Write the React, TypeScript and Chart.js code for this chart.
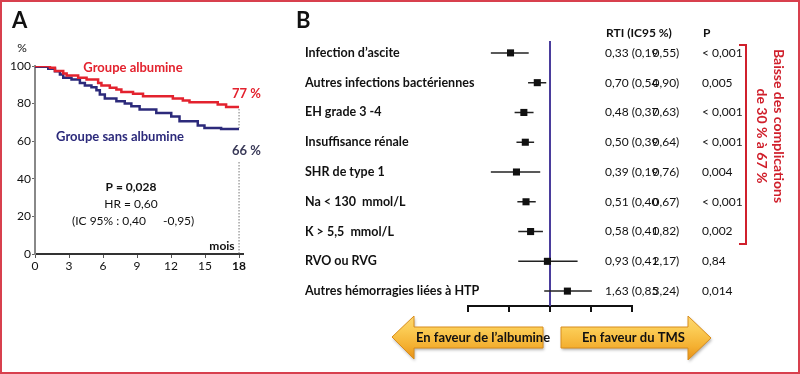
import React, { useEffect, useRef } from 'react';
import { Chart, registerables } from 'chart.js';

Chart.register(...registerables);

const FONT = 'Lato, "Open Sans", "DejaVu Sans", sans-serif';
const RED = '#e3222e';
const NAVY = '#2c2a7b';
const FRAME = '#d8404e';

// ---------- Panel A : Kaplan-Meier ----------
const monthTicks = [0, 3, 6, 9, 12, 15, 18];
const pctTicks = [0, 20, 40, 60, 80, 100];
const albuminTimes = [0, 1.32, 1.76, 2.49, 2.79, 3.81, 4.55, 5.57, 5.86, 6.6, 7.18, 7.62, 8.65, 9.53, 12.16, 13.04, 13.63, 16.12, 16.86, 18];
const albuminSurv = [100, 99.1, 97.3, 96, 94.9, 93.7, 92.8, 91, 89.6, 88.4, 87.5, 86.2, 85.2, 83.9, 82.7, 81.6, 80.7, 79.5, 78.2, 78.2];
const noAlbuminTimes = [0, 1.17, 1.76, 2.2, 2.49, 3.22, 3.96, 4.4, 4.98, 5.42, 5.72, 6.16, 7.18, 7.92, 8.5, 9.23, 10.7, 12.02, 12.75, 14.36, 14.95, 16.42, 18];
const noAlbuminSurv = [99.6, 98.5, 97.2, 95.5, 93.7, 92.8, 91, 89.6, 88.7, 87.1, 84.8, 82.7, 81.2, 80, 78.6, 76.8, 75, 73.2, 70.6, 68.3, 67, 66.5, 66.5];

// ---------- Panel B : forest plot ----------
const complications = [
  'Infection d’ascite',
  'Autres infections bactériennes',
  'EH grade 3 -4',
  'Insuffisance rénale',
  'SHR de type 1',
  'Na < 130  mmol/L',
  'K > 5,5  mmol/L',
  'RVO ou RVG',
  'Autres hémorragies liées à HTP',
];
const rtiValues = [0.33, 0.70, 0.48, 0.50, 0.39, 0.51, 0.58, 0.93, 1.63];
const ciLow = [0.19, 0.54, 0.37, 0.39, 0.19, 0.40, 0.41, 0.41, 0.85];
const ciHigh = [0.55, 0.90, 0.63, 0.64, 0.76, 0.67, 0.82, 2.17, 3.24];
const pValues = ['< 0,001', '0,005', '< 0,001', '< 0,001', '0,004', '< 0,001', '0,002', '0,84', '0,014'];
const forestTicks = [0.1, 0.316, 1, 3.16, 10];

const fr = (v: number) => v.toFixed(2).replace('.', ',');

function drawArrow(ctx: CanvasRenderingContext2D, pts: number[][], top: number, bottom: number) {
  ctx.save();
  const g = ctx.createLinearGradient(0, top, 0, bottom);
  g.addColorStop(0, '#fcd66f');
  g.addColorStop(0.3, '#fbcc55');
  g.addColorStop(0.7, '#f4b031');
  g.addColorStop(1, '#e6901a');
  ctx.beginPath();
  pts.forEach((p, i) => (i ? ctx.lineTo(p[0], p[1]) : ctx.moveTo(p[0], p[1])));
  ctx.closePath();
  ctx.shadowColor = 'rgba(0,0,0,0.3)';
  ctx.shadowOffsetX = 1;
  ctx.shadowOffsetY = 2;
  ctx.shadowBlur = 3;
  ctx.fillStyle = g;
  ctx.fill();
  ctx.shadowColor = 'transparent';
  ctx.strokeStyle = '#d88d1c';
  ctx.lineWidth = 1;
  ctx.stroke();
  ctx.restore();
}

export default function App() {
  const refA = useRef<HTMLCanvasElement>(null);
  const refB = useRef<HTMLCanvasElement>(null);

  useEffect(() => {
    const plotA = {
      id: 'kmText',
      afterDraw(chart: any) {
        const ctx = chart.ctx as CanvasRenderingContext2D;
        const xs = chart.scales.x;
        const ys = chart.scales.y;
        ctx.save();
        const x18 = xs.getPixelForValue(18);
        ctx.strokeStyle = '#777';
        ctx.lineWidth = 1;
        ctx.setLineDash([1.5, 1.5]);
        ctx.beginPath();
        ctx.moveTo(x18, ys.getPixelForValue(albuminSurv[albuminSurv.length - 1]) + 2);
        ctx.lineTo(x18, ys.getPixelForValue(noAlbuminSurv[noAlbuminSurv.length - 1]) - 1);
        ctx.moveTo(x18, 162);
        ctx.lineTo(x18, ys.bottom);
        ctx.stroke();
        ctx.setLineDash([]);

        ctx.textBaseline = 'alphabetic';
        ctx.textAlign = 'left';
        ctx.fillStyle = '#111';
        ctx.font = `bold 22px ${FONT}`;
        ctx.fillText('A', 12, 28);

        ctx.textBaseline = 'middle';
        ctx.textAlign = 'center';
        ctx.font = `12px ${FONT}`;
        ctx.fillText('%', 22, 48);

        ctx.font = `bold 13px ${FONT}`;
        ctx.fillStyle = RED;
        ctx.fillText('Groupe albumine', 133, 68);
        ctx.textAlign = 'left';
        ctx.fillText('77 %', 232, 94);
        ctx.fillStyle = NAVY;
        ctx.textAlign = 'center';
        ctx.fillText('Groupe sans albumine', 120, 137);
        ctx.textAlign = 'left';
        ctx.fillStyle = '#3a3a58';
        ctx.fillText('66 %', 232, 151);

        ctx.fillStyle = '#111';
        ctx.textAlign = 'center';
        ctx.font = `bold 12px ${FONT}`;
        ctx.fillText('P = 0,028', 131, 187);
        ctx.font = `12px ${FONT}`;
        ctx.fillText('HR = 0,60', 131, 204);
        ctx.textAlign = 'left';
        ctx.fillText('(IC 95% : 0,40', 72, 221);
        ctx.fillText('-0,95)', 163, 221);
        ctx.font = `bold 12px ${FONT}`;
        ctx.textAlign = 'center';
        ctx.fillText('mois', 222, 246);
        ctx.restore();
      },
    };

    const chartA = new Chart(refA.current as HTMLCanvasElement, {
      type: 'line',
      data: {
        datasets: [
          {
            label: 'Groupe albumine',
            data: albuminTimes.map((t, i) => ({ x: t, y: albuminSurv[i] })),
            borderColor: RED,
            borderWidth: 2.5,
            stepped: true,
            pointRadius: 0,
            fill: false,
          },
          {
            label: 'Groupe sans albumine',
            data: noAlbuminTimes.map((t, i) => ({ x: t, y: noAlbuminSurv[i] })),
            borderColor: NAVY,
            borderWidth: 2.5,
            stepped: true,
            pointRadius: 0,
            fill: false,
          },
        ],
      },
      options: {
        animation: false,
        responsive: false,
        devicePixelRatio: 1,
        layout: { padding: { left: 5, top: 66, right: 557, bottom: 100 } },
        plugins: { legend: { display: false }, tooltip: { enabled: false } },
        scales: {
          x: {
            type: 'linear',
            min: 0,
            max: 18.35,
            afterBuildTicks: (s: any) => {
              s.ticks = monthTicks.map((v) => ({ value: v }));
            },
            afterFit: (s: any) => {
              s.height = 20;
            },
            grid: { drawOnChartArea: false, tickLength: 4, color: '#555', lineWidth: 1 },
            border: { color: '#333', width: 2 },
            ticks: {
              color: '#111',
              padding: 1,
              maxRotation: 0,
              autoSkip: false,
              font: (c: any) => ({ family: FONT, size: 12, weight: c.tick && c.tick.value === 18 ? 'bold' : 'normal' }),
            },
          },
          y: {
            type: 'linear',
            min: 0,
            max: 100,
            afterBuildTicks: (s: any) => {
              s.ticks = pctTicks.map((v) => ({ value: v }));
            },
            afterFit: (s: any) => {
              s.width = 30;
            },
            grid: { drawOnChartArea: false, tickLength: 3, color: '#666', lineWidth: 1 },
            border: { color: '#888', width: 2 },
            ticks: { color: '#111', padding: 1, font: { family: FONT, size: 12 } },
          },
        },
      },
      plugins: [plotA],
    } as any);

    const plotB = {
      id: 'forestText',
      beforeDatasetsDraw(chart: any) {
        const ctx = chart.ctx as CanvasRenderingContext2D;
        const xs = chart.scales.x;
        const area = chart.chartArea;
        const x1 = xs.getPixelForValue(1);
        ctx.save();
        ctx.strokeStyle = '#4a3d9c';
        ctx.lineWidth = 2;
        ctx.beginPath();
        ctx.moveTo(x1, area.top + 3);
        ctx.lineTo(x1, area.bottom);
        ctx.stroke();
        ctx.restore();
      },
      afterDraw(chart: any) {
        const ctx = chart.ctx as CanvasRenderingContext2D;
        const ys = chart.scales.y;
        ctx.save();
        ctx.fillStyle = '#111';
        ctx.textBaseline = 'alphabetic';
        ctx.font = `bold 22px ${FONT}`;
        ctx.fillText('B', 296, 28);

        ctx.textBaseline = 'middle';
        ctx.textAlign = 'left';
        ctx.font = `bold 12px ${FONT}`;
        ctx.fillText('RTI (IC95 %)', 606, 33);
        ctx.fillText('P', 703, 33);

        complications.forEach((label, i) => {
          const y = ys.getPixelForValue(i);
          ctx.font = `bold 12.5px ${FONT}`;
          ctx.fillStyle = '#111';
          ctx.fillText(label, 305, y);
          ctx.font = `12px ${FONT}`;
          const first = `${fr(rtiValues[i])} (${fr(ciLow[i])}`;
          ctx.fillText(first, 605, y);
          const w = ctx.measureText(first).width;
          ctx.fillText(`${fr(ciHigh[i])})`, 605 + w - 6, y);
          ctx.fillText(pValues[i], 702, y);
        });

        // bracket
        ctx.strokeStyle = '#d0202c';
        ctx.lineWidth = 2;
        ctx.beginPath();
        ctx.moveTo(739, 45);
        ctx.lineTo(746, 45);
        ctx.lineTo(746, 244);
        ctx.lineTo(739, 244);
        ctx.stroke();

        ctx.fillStyle = '#d0202c';
        ctx.font = `bold 14px ${FONT}`;
        ctx.textAlign = 'center';
        ctx.save();
        ctx.translate(779, 126);
        ctx.rotate(Math.PI / 2);
        ctx.fillText('Baisse des complications', 0, 0);
        ctx.restore();
        ctx.save();
        ctx.translate(762, 136);
        ctx.rotate(Math.PI / 2);
        ctx.fillText('de 30 % à 67 %', 0, 0);
        ctx.restore();

        // arrows
        drawArrow(ctx, [[392, 337], [414, 316], [414, 327], [543, 327], [543, 348], [414, 348], [414, 359]], 316, 359);
        drawArrow(ctx, [[561, 327], [688, 327], [688, 316], [711, 338], [688, 360], [688, 348], [561, 348]], 316, 360);
        ctx.fillStyle = '#111';
        ctx.textAlign = 'left';
        ctx.font = `bold 13px ${FONT}`;
        ctx.fillText('En faveur de l’albumine', 416, 338);
        ctx.fillText('En faveur du TMS', 582, 338);
        ctx.restore();
      },
    };

    const chartB = new Chart(refB.current as HTMLCanvasElement, {
      type: 'scatter',
      data: {
        datasets: [
          {
            type: 'scatter',
            label: 'RTI',
            data: complications.map((c, i) => ({ x: rtiValues[i], y: c })),
            pointStyle: 'rect',
            pointRadius: 5,
            backgroundColor: '#111',
            borderColor: '#111',
            borderWidth: 0,
          },
          ...complications.map((c, i) => ({
            type: 'line',
            label: c,
            data: [
              { x: ciLow[i], y: c },
              { x: ciHigh[i], y: c },
            ],
            borderColor: '#222',
            borderWidth: 1.5,
            pointRadius: 0,
            fill: false,
          })),
        ],
      },
      options: {
        animation: false,
        responsive: false,
        devicePixelRatio: 1,
        layout: { padding: { left: 468, right: 168, top: 38, bottom: 62 } },
        plugins: { legend: { display: false }, tooltip: { enabled: false } },
        scales: {
          x: {
            type: 'logarithmic',
            min: 0.1,
            max: 10,
            afterBuildTicks: (s: any) => {
              s.ticks = forestTicks.map((v) => ({ value: v }));
            },
            afterFit: (s: any) => {
              s.height = 6;
            },
            ticks: { display: false },
            grid: { drawOnChartArea: false, tickLength: 6, color: '#111', lineWidth: 2 },
            border: { color: '#111', width: 2 },
          },
          y: {
            type: 'category',
            labels: complications,
            offset: true,
            display: false,
          },
        },
      },
      plugins: [plotB],
    } as any);

    return () => {
      chartA.destroy();
      chartB.destroy();
    };
  }, []);

  return (
    <div style={{ position: 'absolute', left: 0, top: 0, width: 800, height: 374, background: '#fff', overflow: 'hidden' }}>
      <canvas ref={refA} width={800} height={374} style={{ position: 'absolute', left: 0, top: 0, width: 800, height: 374 }} />
      <canvas ref={refB} width={800} height={374} style={{ position: 'absolute', left: 0, top: 0, width: 800, height: 374 }} />
      <div style={{ position: 'absolute', left: 0, top: 0, width: 800, height: 374, boxSizing: 'border-box', border: `2px solid ${FRAME}`, pointerEvents: 'none' }} />
    </div>
  );
}
